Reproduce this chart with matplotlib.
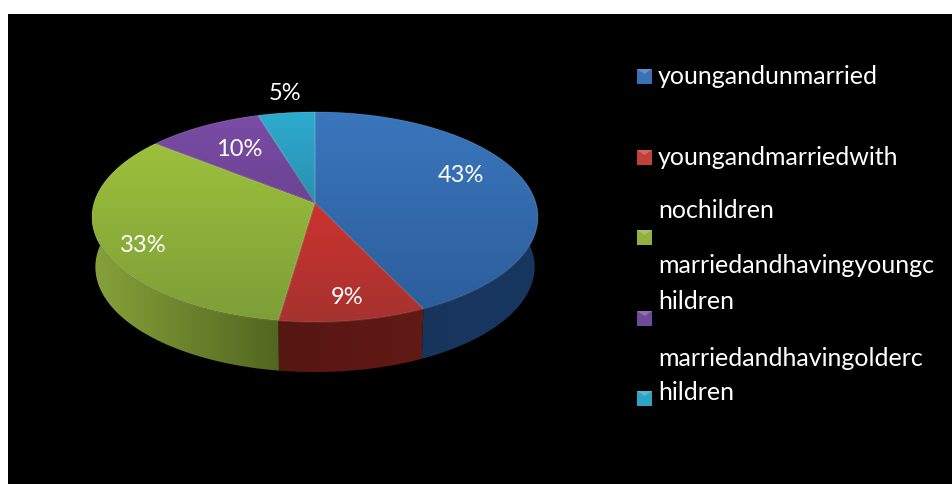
import numpy as np
import matplotlib

matplotlib.use("Agg")
import matplotlib.pyplot as plt
from matplotlib.colors import LinearSegmentedColormap
from matplotlib.patches import Polygon, Rectangle

# slice shares, clockwise from 12 o'clock
SHARES = [42.9, 9.4, 33.4, 9.6, 4.7]
TOP_COLORS = [
    ("#3a76bd", "#2c5e9c"),
    ("#cc322e", "#a63330"),
    ("#9cc03c", "#7e9e38"),
    ("#7a4ca6", "#6c4392"),
    ("#2daccf", "#2a8fb0"),
]
SIDE_COLORS = [
    ("#16325a", "#183760"),
    ("#561612", "#621a16"),
    ("#86a23a", "#526620"),
    ("#4a2f66", "#4a2f66"),
    ("#1c6a80", "#1c6a80"),
]
SWATCH_COLORS = ["#3a70b4", "#c2403c", "#93b03e", "#6f4a98", "#2ea4c4"]

LEGEND_LINES = [
    "youngandunmarried",
    "youngandmarriedwith",
    "nochildren",
    "marriedandhavingyoungc",
    "hildren",
    "marriedandhavingolderc",
    "hildren",
]
LEGEND_BASELINES = [84, 165, 218, 273, 309, 366, 400]
SWATCH_TOPS = [69, 150, 230, 311, 391]
LABEL_CENTERS = [(461, 175), (347, 297), (143, 246), (239, 150), (285, 93)]

FONT = "Lato"
APEX_X, APEX_Y = 315, 203
PERSP = 0.1333
SCALE_X = 221
SCALE_Y = 103.2
DEPTH = 50


def project(angle_deg):
    # unit circle in perspective, angle clockwise from the top
    a = np.radians(angle_deg)
    u, v = np.sin(a), np.cos(a)
    w = 1 + PERSP * v
    return APEX_X + SCALE_X * u / w, APEX_Y - SCALE_Y * v / w


def gradient_fill(ax, points, colors, horizontal=False, zorder=2):
    poly = Polygon(points, closed=True, facecolor="none", edgecolor="none", zorder=zorder)
    ax.add_patch(poly)
    x0, x1 = points[:, 0].min(), points[:, 0].max()
    y0, y1 = points[:, 1].min(), points[:, 1].max()
    cmap = LinearSegmentedColormap.from_list("g", colors)
    ramp = np.linspace(0, 1, 128)
    grid = ramp[None, :] if horizontal else ramp[:, None]
    img = ax.imshow(grid, extent=(x0, x1, y1, y0), cmap=cmap, aspect="auto",
                    interpolation="bilinear", zorder=zorder)
    img.set_clip_path(poly)


def draw_pie(ax):
    edges = np.concatenate([[0], np.cumsum(SHARES)]) / sum(SHARES) * 360

    # the outer wall goes first, the top face covers whatever is behind it
    for i in range(len(SHARES)):
        angles = np.linspace(edges[i], edges[i + 1], 80)
        rx, ry = project(angles)
        low_x = APEX_X + (rx - APEX_X) * 0.985
        low_y = ry + DEPTH
        wall = np.column_stack([np.r_[rx, low_x[::-1]], np.r_[ry, low_y[::-1]]])
        gradient_fill(ax, wall, SIDE_COLORS[i], horizontal=True, zorder=2)

    for i in range(len(SHARES)):
        angles = np.linspace(edges[i], edges[i + 1], 80)
        rx, ry = project(angles)
        face = np.column_stack([np.r_[APEX_X, rx], np.r_[APEX_Y, ry]])
        gradient_fill(ax, face, TOP_COLORS[i], zorder=3)
        ax.add_patch(Polygon(face, closed=True, facecolor="none",
                             edgecolor="#ffffff", alpha=0.1, linewidth=1.0, zorder=4))


def draw_labels(ax):
    for share, (x, y) in zip(SHARES, LABEL_CENTERS):
        ax.text(x, y, f"{round(share)}%", color="white", fontsize=17, family=FONT,
                ha="center", va="center", zorder=5)


def draw_legend(ax):
    for top, color in zip(SWATCH_TOPS, SWATCH_COLORS):
        ax.add_patch(Rectangle((637, top), 15, 15, facecolor=color, edgecolor="none", zorder=3))
        ax.add_patch(Polygon([(637, top), (652, top), (644.5, top + 5)], closed=True,
                             facecolor="white", alpha=0.22, edgecolor="none", zorder=4))
    for line, baseline in zip(LEGEND_LINES, LEGEND_BASELINES):
        ax.text(658, baseline, line, color="white", fontsize=18, family=FONT,
                ha="left", va="baseline", zorder=5)


def main():
    fig = plt.figure(figsize=(9.52, 4.84), dpi=100, facecolor="white")
    ax = fig.add_axes([0, 0, 1, 1])
    ax.axis("off")

    ax.add_patch(Rectangle((8, 14), 944, 470, facecolor="black", edgecolor="none", zorder=1))
    draw_pie(ax)
    draw_labels(ax)
    draw_legend(ax)

    ax.set_xlim(0, 952)
    ax.set_ylim(484, 0)
    fig.savefig("out.png", dpi=100, facecolor="white")
    plt.close(fig)


if __name__ == "__main__":
    main()
